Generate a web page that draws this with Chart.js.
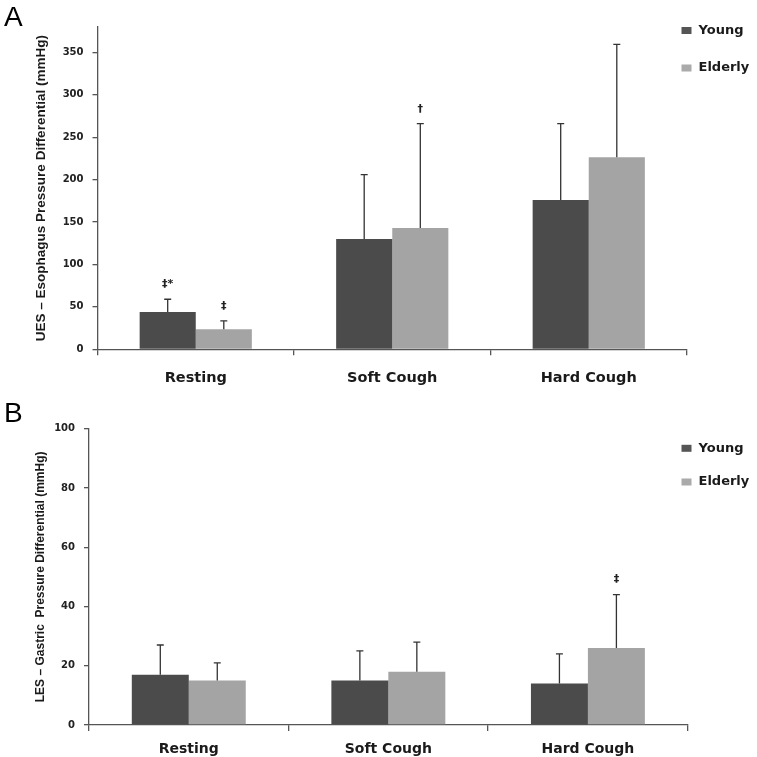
<!DOCTYPE html>
<html><head><meta charset="utf-8">
<script src="https://cdn.jsdelivr.net/npm/chart.js@4/dist/chart.umd.min.js"></script>
<style>
html,body{margin:0;padding:0;background:#fff;width:757px;height:757px;overflow:hidden;position:relative}
.wrap{position:absolute;left:0;width:757px}
.panel{position:absolute;left:4px;font-family:"Liberation Sans",Arial,sans-serif;font-size:28px;color:#000;line-height:1}
</style></head><body>
<div class="wrap" style="top:0;height:400px"><canvas id="cA" width="757" height="400"></canvas></div>
<div class="wrap" style="top:380px;height:377px"><canvas id="cB" width="757" height="377"></canvas></div>
<div class="panel" style="top:3px">A</div>
<div class="panel" style="top:399px">B</div>
<script>
const categories = ['Resting', 'Soft Cough', 'Hard Cough'];
const seriesNames = ['Young', 'Elderly'];

// Panel A: UES - Esophagus pressure differential (mmHg)
const uesYoung = [44, 130, 176];
const uesYoungErr = [15, 76, 90];
const uesElderly = [23.5, 143, 226.5];
const uesElderlyErr = [10, 123, 133];
const uesYoungMarks = ['‡*', '', ''];
const uesElderlyMarks = ['‡', '†', ''];
const uesTicks = [0, 50, 100, 150, 200, 250, 300, 350];
const uesMax = 380;

// Panel B: LES - Gastric pressure differential (mmHg)
const lesYoung = [17, 15, 14];
const lesYoungErr = [10, 10, 10];
const lesElderly = [15, 18, 26];
const lesElderlyErr = [6, 10, 18];
const lesYoungMarks = ['', '', ''];
const lesElderlyMarks = ['', '', '‡'];
const lesTicks = [0, 20, 40, 60, 80, 100];
const lesMax = 100;

const colYoung = '#4b4b4b';
const colElderly = '#a4a4a4';
const axisCol = '#555555';

const errPlugin = {
  id: 'errbars',
  afterDatasetsDraw(chart, args, opts) {
    const ctx = chart.ctx;
    const ys = chart.scales.y;
    chart.data.datasets.forEach((ds, di) => {
      const meta = chart.getDatasetMeta(di);
      meta.data.forEach((bar, i) => {
        const top = ys.getPixelForValue(ds.data[i] + opts.errs[di][i]);
        const x = bar.x;
        ctx.save();
        ctx.strokeStyle = '#333';
        ctx.lineWidth = 1.3;
        ctx.beginPath();
        ctx.moveTo(x, bar.y);
        ctx.lineTo(x, top);
        ctx.moveTo(x - 3.5, top);
        ctx.lineTo(x + 3.5, top);
        ctx.stroke();
        const m = opts.marks[di][i];
        if (m) {
          ctx.fillStyle = '#222';
          ctx.font = 'bold 11px "DejaVu Sans"';
          ctx.textAlign = 'center';
          ctx.textBaseline = 'middle';
          ctx.fillText(m, x, top - 15);
        }
        ctx.restore();
      });
    });
    // legend
    ctx.save();
    ctx.font = 'bold 13px "DejaVu Sans"';
    ctx.textBaseline = 'middle';
    ctx.textAlign = 'left';
    chart.data.datasets.forEach((ds, di) => {
      const yc = opts.legendY[di];
      ctx.fillStyle = di === 0 ? '#555' : '#aaa';
      ctx.fillRect(opts.legendX, yc - 3.5, 10, 7);
      ctx.fillStyle = '#1a1a1a';
      ctx.fillText(ds.label, opts.legendX + 17, yc);
    });
    ctx.restore();
  }
};

function build(id, young, elderly, yErr, eErr, yMarks, eMarks, tickVals, yMax, g) {
  return new Chart(document.getElementById(id), {
    type: 'bar',
    data: {
      labels: categories,
      datasets: [
        {label: seriesNames[0], data: young, backgroundColor: colYoung, borderWidth: 0},
        {label: seriesNames[1], data: elderly, backgroundColor: colElderly, borderWidth: 0}
      ]
    },
    options: {
      responsive: false,
      animation: false,
      layout: {padding: {left: 0, right: g.right, top: g.top, bottom: 0}},
      datasets: {bar: {categoryPercentage: 0.571, barPercentage: 1}},
      plugins: {
        legend: {display: false},
        tooltip: {enabled: false},
        errbars: {errs: [yErr, eErr], marks: [yMarks, eMarks], legendX: 681.5, legendY: g.legendY}
      },
      scales: {
        x: {
          grid: {display: true, drawOnChartArea: false, tickLength: 6, color: axisCol, lineWidth: 1.3, offset: true},
          border: {color: axisCol, width: 1.3},
          ticks: {font: {family: 'DejaVu Sans', weight: 'bold', size: g.catSize}, color: '#1a1a1a', padding: g.catPad, maxRotation: 0},
          afterFit(s) { s.height = g.xh; }
        },
        y: {
          min: 0, max: yMax,
          grid: {display: true, drawOnChartArea: false, tickLength: 5, color: axisCol, lineWidth: 1.3},
          border: {color: axisCol, width: 1.3},
          afterBuildTicks(s) { s.ticks = tickVals.map(v => ({value: v})); },
          ticks: {font: {family: 'DejaVu Sans', weight: 'bold', size: 10}, color: '#222', padding: 9},
          title: {display: true, text: g.title, font: {family: 'Liberation Sans', weight: 'bold', size: g.titleSize}, color: '#1a1a1a', padding: {top: 33, bottom: 0}},
          afterFit(s) { s.width = g.yw; }
        }
      }
    },
    plugins: [errPlugin]
  });
}

build('cA', uesYoung, uesElderly, uesYoungErr, uesElderlyErr, uesYoungMarks, uesElderlyMarks, uesTicks, uesMax, {
  right: 70, top: 27, xh: 400 - 349.3, yw: 97.5, catSize: 14.5, catPad: 14,
  title: 'UES – Esophagus Pressure Differential (mmHg)', titleSize: 13.5, legendY: [30.5, 68]
});
build('cB', lesYoung, lesElderly, lesYoungErr, lesElderlyErr, lesYoungMarks, lesElderlyMarks, lesTicks, lesMax, {
  right: 69.3, top: 48.7, xh: 377 - 345, yw: 89, catSize: 14, catPad: 10,
  title: 'LES – Gastric  Pressure Differential (mmHg)', titleSize: 12, legendY: [68.3, 102]
});
</script>
</body></html>
